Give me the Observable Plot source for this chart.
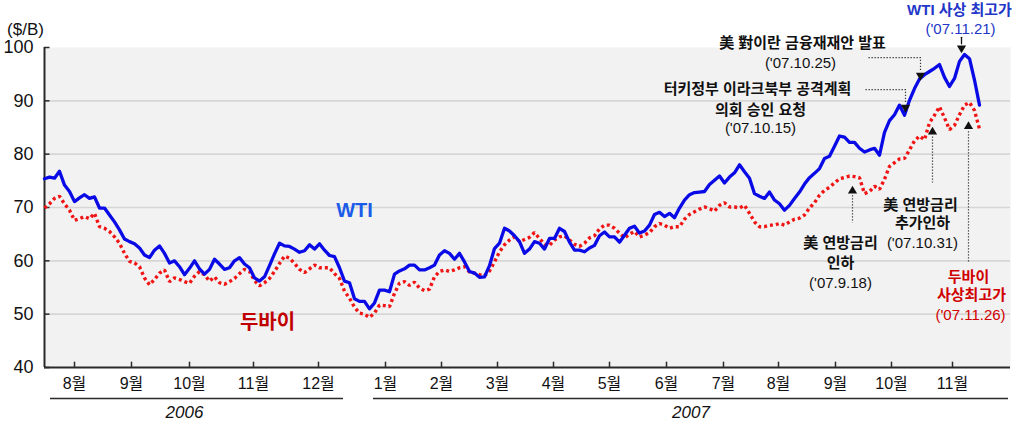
<!DOCTYPE html>
<html>
<head>
<meta charset="utf-8">
<script src="https://cdn.jsdelivr.net/npm/d3@7"></script>
<script src="https://cdn.jsdelivr.net/npm/@observablehq/plot@0.6"></script>
<style>
  html, body { margin: 0; padding: 0; background: #fff; }
</style>
</head>
<body>
<div id="chart"></div>
<script>
// ---- Data (observation index = sampled trading days, Jul 2006 .. Nov 2007) ----
const wti = [
  75.4, 75.7, 75.5, 76.8, 74.2, 73.0, 71.1, 71.8, 72.4, 71.7, 72.0, 69.9, 69.9, 68.6, 67.3, 65.8, 64.1,
  63.6, 63.2, 62.4, 61.1, 60.6, 62.0, 62.8, 61.4, 59.6, 60.0, 58.9, 57.4, 58.6, 60.0, 58.5, 57.5,
  58.4, 60.3, 59.4, 58.4, 58.7, 60.0, 60.6, 59.4, 58.7, 56.8, 56.2, 57.0, 59.1, 61.3, 63.3, 62.8,
  62.7, 62.2, 61.6, 61.9, 63.0, 62.2, 63.2, 62.0, 61.0, 60.8, 58.7, 56.2, 55.9, 52.9, 52.4,
  52.4, 51.0, 52.1, 54.5, 54.5, 54.2, 57.5, 58.1, 58.5, 59.2, 59.2, 58.3, 58.3, 58.7, 59.2, 61.1,
  61.9, 61.4, 60.3, 61.4, 59.8, 58.0, 57.7, 56.9, 57.0, 59.1, 62.3, 63.3, 66.1, 65.6, 64.7, 63.6,
  61.4, 62.2, 63.6, 63.3, 62.2, 64.2, 64.2, 66.1, 65.5, 63.5, 62.0, 62.0, 61.7, 62.4, 62.9, 64.7,
  65.4, 64.5, 64.5, 63.5, 64.8, 66.1, 66.5, 65.2, 65.6, 66.7, 68.7, 69.1, 68.3, 68.9, 68.1, 69.9,
  71.4, 72.4, 72.8, 72.9, 73.0, 74.3, 75.1, 75.9, 74.6, 75.7, 76.5, 78.0, 76.7, 75.5, 72.6, 72.1,
  71.7, 72.9, 71.4, 70.7, 69.5, 70.4, 71.7, 72.9, 74.4, 75.6, 76.4, 77.3, 79.2, 79.6, 81.5, 83.4,
  83.2, 82.2, 82.2, 81.1, 80.4, 80.8, 81.1, 79.8, 84.1, 86.3, 87.4, 89.2, 87.3, 90.1, 92.3, 94.1,
  94.9, 95.5, 96.1, 96.8, 94.4, 92.7, 94.2, 97.4, 98.7, 97.9, 93.9, 89.2
];
const dubai = [
  69.9, 70.7, 71.7, 72.1, 70.7, 69.5, 67.6, 67.9, 68.3, 67.9, 68.9, 66.4, 66.1, 65.5, 64.5, 63.3, 61.4,
  59.9, 59.6, 58.9, 56.8, 55.5, 56.5, 57.7, 58.3, 56.1, 56.8, 56.5, 56.1, 55.8, 57.1, 58.0, 57.4,
  56.2, 57.0, 55.9, 55.6, 56.1, 56.7, 57.6, 58.4, 58.0, 56.3, 55.3, 55.9, 56.7, 58.0, 59.5, 60.9,
  60.5, 59.5, 58.4, 57.8, 58.5, 59.2, 58.7, 58.7, 58.7, 57.6, 56.7, 54.3, 53.0, 51.3, 50.2,
  50.0, 49.4, 50.2, 51.7, 51.6, 51.4, 53.9, 55.8, 56.1, 55.4, 56.0, 54.9, 54.4, 54.7, 57.0, 58.0,
  58.3, 58.0, 58.3, 58.7, 58.9, 57.9, 57.7, 57.4, 57.2, 58.1, 59.8, 61.7, 63.0, 63.9, 64.5, 63.6,
  64.0, 64.4, 65.3, 64.2, 63.1, 62.9, 63.9, 64.5, 64.7, 63.9, 63.1, 62.7, 63.3, 64.3, 64.7, 66.0,
  66.7, 66.7, 66.1, 65.2, 64.3, 65.0, 65.5, 64.5, 64.8, 65.3, 66.4, 67.0, 66.7, 66.1, 66.4, 66.4,
  67.8, 68.7, 69.2, 69.7, 70.1, 69.8, 69.3, 70.4, 70.9, 70.1, 70.1, 69.9, 70.4, 68.9, 67.3, 66.4,
  66.4, 66.7, 66.7, 67.0, 66.7, 67.3, 67.8, 68.0, 68.6, 69.9, 70.9, 72.3, 73.2, 73.8, 74.6, 75.4,
  75.6, 75.9, 75.8, 75.6, 72.6, 73.0, 74.0, 73.4, 75.3, 77.7, 78.4, 79.1, 79.2, 80.8, 82.5, 83.4,
  82.7, 85.9, 87.3, 88.9, 86.8, 84.6, 85.4, 87.4, 89.2, 89.7, 88.2, 84.7
];
const monthLabels = ["8월","9월","10월","11월","12월","1월","2월","3월","4월","5월","6월","7월","8월","9월","10월","11월"];
const monthTicks  = [6, 17.4, 29, 41.8, 54.8, 68.2, 79.4, 90.6, 101.8, 113, 124.4, 135.8, 146.8, 158.2, 169.4, 181.6];
const yTicks = [40, 50, 60, 70, 80, 90, 100];
const gridValues = [50, 60, 70, 80, 90];
const unitLabel = "($/B)";

// year brackets (in observation-index units)
const years = [
  {year: "2006", x1: 1.2, x2: 59.8, xl: 28},
  {year: "2007", x1: 65.8, x2: 192.8, xl: 129.3}
];

// series labels
const seriesLabels = [
  {text: "WTI", x: 62, y: 69.4, fill: "#1a5ce8"},
  {text: "두바이", x: 44.6, y: 48.4, fill: "#c00000"}
];

// annotation texts
const notes = [
  {text: "WTI 사상 최고가", x: 183, y: 107.0, fill: "#2236c8", bold: true},
  {text: "('07.11.21)", x: 183.2, y: 103.4, fill: "#2236c8", bold: false},
  {text: "美 對이란 금융재재안 발표", x: 151.6, y: 100.75, fill: "#111", bold: true},
  {text: "('07.10.25)", x: 151.2, y: 97.0, fill: "#111", bold: false},
  {text: "터키정부 이라크북부 공격계획", x: 142.6, y: 92.1, fill: "#111", bold: true},
  {text: "의회 승인 요청", x: 143.2, y: 88.2, fill: "#111", bold: true},
  {text: "('07.10.15)", x: 143.2, y: 84.8, fill: "#111", bold: false},
  {text: "美 연방금리", x: 159.2, y: 63.25, fill: "#111", bold: true},
  {text: "인하", x: 159.2, y: 59.5, fill: "#111", bold: true},
  {text: "('07.9.18)", x: 159.2, y: 55.75, fill: "#111", bold: false},
  {text: "美 연방금리", x: 175.2, y: 70.4, fill: "#111", bold: true},
  {text: "추가인하", x: 175.6, y: 67.0, fill: "#111", bold: true},
  {text: "('07.10.31)", x: 175.6, y: 63.25, fill: "#111", bold: false},
  {text: "두바이", x: 184.8, y: 56.9, fill: "#d00000", bold: true},
  {text: "사상최고가", x: 185.4, y: 53.5, fill: "#d00000", bold: true},
  {text: "('07.11.26)", x: 185.2, y: 49.75, fill: "#d00000", bold: false}
];

// arrow heads and dotted leaders
const arrowsDown = [{x: 183.4, y: 99.9}, {x: 175.2, y: 94.75}, {x: 172.2, y: 88.75}];
const arrowsUp = [{x: 161.6, y: 73.1}, {x: 177.6, y: 84.16}, {x: 184.8, y: 85.2}];
const leaders = [
  {k: "a", pts: [[183.4, 101.9], [183.4, 100.7]], dash: null},
  {k: "b", pts: [[164.8, 98.1], [175.2, 98.1], [175.2, 95.6]], dash: "1.3,1.7"},
  {k: "c", pts: [[164.2, 92.1], [172.2, 92.1], [172.2, 89.6]], dash: "1.3,1.7"},
  {k: "d", pts: [[161.6, 72.3], [161.6, 67.2]], dash: "1.3,1.7"},
  {k: "e", pts: [[177.6, 83.3], [177.6, 74.7]], dash: "1.3,1.7"},
  {k: "f", pts: [[184.8, 84.3], [184.8, 59.7]], dash: "1.3,1.7"}
];

// ---- Build ----
const wtiRows = wti.map((v, i) => ({i, v}));
const dubaiRows = dubai.map((v, i) => ({i, v}));
const leaderRows = leaders.flatMap(l => l.pts.map(([x, y]) => ({k: l.k, x, y, dash: l.dash})));

const FONT = "'Liberation Sans', Arial, 'Noto Sans CJK KR', sans-serif";
const AX = "#2a2a2a";

const chart = Plot.plot({
  width: 1024,
  height: 424,
  marginLeft: 44,
  marginRight: 14,
  marginTop: 47,
  marginBottom: 57,
  style: {fontFamily: FONT, background: "#fff", color: "#111"},
  x: {domain: [0, 193.2], axis: null},
  y: {domain: [40, 100], axis: null},
  marks: [
    Plot.frame({fill: "#f2f2f2", stroke: null}),
    Plot.ruleY(gridValues, {stroke: "#d6d6d6", strokeWidth: 1.6}),
    // y axis
    Plot.ruleX([0], {y1: 40, y2: 100, stroke: AX, strokeWidth: 2}),
    Plot.ruleY(yTicks, {x1: 0, x2: 1.1, stroke: AX, strokeWidth: 1.5}),
    Plot.axisY({ticks: yTicks, tickSize: 0, tickPadding: 11, fontSize: 18, label: null, tickFormat: d => d, fill: "#111"}),
    Plot.text([unitLabel], {frameAnchor: "top-left", dx: -19, dy: -25, fontSize: 17, fill: "#111", textAnchor: "middle"}),
    // x axis
    Plot.ruleY([40], {stroke: AX, strokeWidth: 2}),
    Plot.ruleX(monthTicks, {y1: 40, y2: 41, stroke: AX, strokeWidth: 1.5}),
    Plot.text(monthTicks, {x: d => d, y: () => 40, dy: 16, text: (d, i) => monthLabels[i], fontSize: 16, fill: "#111"}),
    Plot.ruleY(years, {x1: "x1", x2: "x2", y: () => 40, dy: 31, stroke: AX, strokeWidth: 1.5}),
    Plot.text(years, {x: "xl", y: () => 40, dy: 45, text: "year", fontSize: 17, fontStyle: "italic", fill: "#111"}),
    // series
    Plot.line(dubaiRows, {x: "i", y: "v", stroke: "#f01414", strokeWidth: 3.4, strokeDasharray: "3,3", strokeLinecap: "butt", strokeLinejoin: "miter"}),
    Plot.line(wtiRows, {x: "i", y: "v", stroke: "#0a0ae6", strokeWidth: 3.3, strokeLinejoin: "round"}),
    Plot.text(seriesLabels, {x: "x", y: "y", text: "text", fill: "fill", fontSize: 20, fontWeight: "bold"}),
    // annotations
    Plot.line(leaderRows.filter(d => d.dash), {x: "x", y: "y", z: "k", stroke: "#333", strokeWidth: 1.2, strokeDasharray: "1.3,1.7", strokeLinecap: "butt"}),
    Plot.line(leaderRows.filter(d => !d.dash), {x: "x", y: "y", z: "k", stroke: "#111", strokeWidth: 1.3}),
    Plot.dot(arrowsDown, {x: "x", y: "y", symbol: "triangle", r: 3.4, fill: "#111", rotate: 180}),
    Plot.dot(arrowsUp, {x: "x", y: "y", symbol: "triangle", r: 3.4, fill: "#111"}),
    Plot.text(notes.filter(d => d.bold), {x: "x", y: "y", text: "text", fill: "fill", fontSize: 15, fontWeight: "bold"}),
    Plot.text(notes.filter(d => !d.bold), {x: "x", y: "y", text: "text", fill: "fill", fontSize: 15})
  ]
});
document.getElementById("chart").appendChild(chart);
</script>
</body>
</html>
